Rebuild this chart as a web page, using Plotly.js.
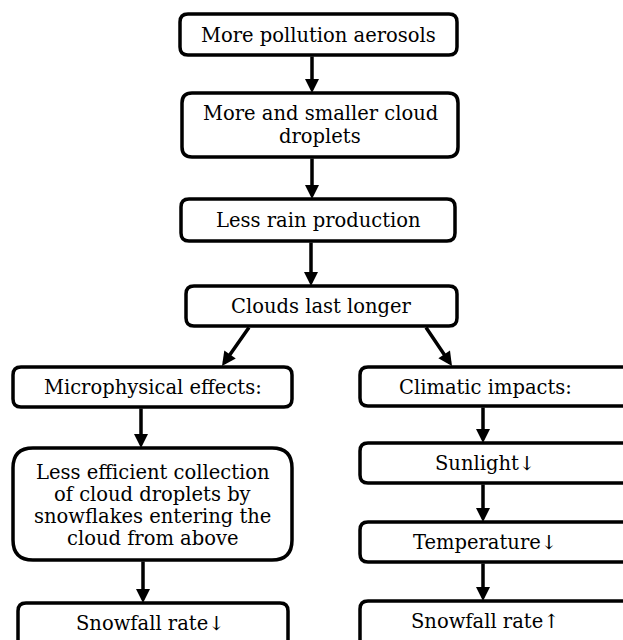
<!DOCTYPE html>
<html>
<head>
<meta charset="utf-8">
<script src="https://cdn.plot.ly/plotly-3.0.1.min.js"></script>
<style>html,body{margin:0;padding:0;background:#fff;}#chart{width:623px;height:640px;}</style>
</head>
<body>
<div id="chart"></div>
<script>
// Node labels (content)
const nodeIds = ["aerosols","droplets","rain","longer","micro","climatic","collection","snowDown","sunlight","temperature","snowUp"];
const nodeLabels = [
  "More pollution aerosols",
  "More and smaller cloud<br>droplets",
  "Less rain production",
  "Clouds last longer",
  "Microphysical effects:",
  "Climatic impacts:",
  "Less efficient collection<br>of cloud droplets by<br>snowflakes entering the<br>cloud from above",
  "Snowfall rate\u2193",
  "Sunlight\u2193",
  "Temperature\u2193",
  "Snowfall rate\u2191"
];
// Edges (from -> to)
const edgeFrom = ["aerosols","droplets","rain","longer","longer","micro","collection","climatic","sunlight","temperature"];
const edgeTo   = ["droplets","rain","longer","micro","climatic","collection","snowDown","sunlight","temperature","snowUp"];

// Layout geometry (pixel-like coordinates of the canvas)
const boxGeom = {
  aerosols:   {x0:180, x1:457, y0:14,  y1:55,  r:8},
  droplets:   {x0:182, x1:458, y0:93,  y1:157, r:10},
  rain:       {x0:181, x1:455, y0:199, y1:241, r:8},
  longer:     {x0:186, x1:457, y0:286, y1:326, r:8},
  micro:      {x0:13,  x1:292, y0:367, y1:407, r:8},
  climatic:   {x0:360, x1:650, y0:367, y1:406, r:8},
  collection: {x0:13,  x1:292, y0:448, y1:560, r:20},
  snowDown:   {x0:18,  x1:288, y0:603, y1:650, r:8},
  sunlight:   {x0:360, x1:650, y0:443, y1:483, r:8},
  temperature:{x0:360, x1:650, y0:522, y1:562, r:8},
  snowUp:     {x0:360, x1:650, y0:601, y1:650, r:8}
};
const textY = {aerosols:35, droplets:113, rain:220, longer:306, micro:387, climatic:387,
  collection:472, snowDown:623, sunlight:463, temperature:542, snowUp:621};
const lineGap = {droplets:23, collection:22};
const textX = {climatic:485, sunlight:485, temperature:485, snowUp:485, snowDown:150};
const edgeGeom = [
  {x0:312,y0:55,x1:312,y1:93},
  {x0:312,y0:157,x1:312,y1:199},
  {x0:311,y0:241,x1:311,y1:286},
  {x0:250,y0:326,x1:222,y1:366},
  {x0:425,y0:326,x1:452,y1:366},
  {x0:141,y0:407,x1:141,y1:448},
  {x0:143,y0:560,x1:143,y1:603},
  {x0:483,y0:406,x1:483,y1:443},
  {x0:483,y0:483,x1:483,y1:522},
  {x0:483,y0:562,x1:483,y1:601}
];

function roundRect(g){
  const {x0,x1,y0,y1,r} = g;
  return `M ${x0+r},${y0} L ${x1-r},${y0} Q ${x1},${y0} ${x1},${y0+r} L ${x1},${y1-r} Q ${x1},${y1} ${x1-r},${y1} L ${x0+r},${y1} Q ${x0},${y1} ${x0},${y1-r} L ${x0},${y0+r} Q ${x0},${y0} ${x0+r},${y0} Z`;
}

const shapes = nodeIds.map(id => ({
  type:'path', xref:'x', yref:'y', path: roundRect(boxGeom[id]),
  line:{color:'#000', width:3.5}, fillcolor:'rgba(0,0,0,0)'
}));

const annotations = [];
nodeIds.forEach((id,i) => {
  const g = boxGeom[id];
  const lines = nodeLabels[i].split('<br>');
  lines.forEach((ln,k) => {
    annotations.push({
      x: textX[id] !== undefined ? textX[id] : (g.x0+g.x1)/2,
      y: textY[id] + k*(lineGap[id]||0), xref:'x', yref:'y', text: ln, showarrow:false,
      font:{family:'DejaVu Serif', size:19.5, color:'#000'}, align:'center',
      xanchor:'center', yanchor:'middle'
    });
  });
});
edgeFrom.forEach((f,i) => {
  const e = edgeGeom[i];
  annotations.push({
    x:e.x1, y:e.y1, ax:e.x0, ay:e.y0, xref:'x', yref:'y', axref:'x', ayref:'y',
    text:'', showarrow:true, arrowhead:2, arrowsize:0.8, arrowwidth:3.5, arrowcolor:'#000',
    standoff:0, startstandoff:0
  });
});

const layout = {
  width:623, height:640,
  margin:{l:0,r:0,t:0,b:0},
  paper_bgcolor:'#fff', plot_bgcolor:'#fff',
  xaxis:{range:[0,623], visible:false, fixedrange:true},
  yaxis:{range:[640,0], visible:false, fixedrange:true},
  shapes, annotations, showlegend:false
};
Plotly.newPlot('chart', [], layout, {staticPlot:true, displayModeBar:false});
</script>
</body>
</html>
